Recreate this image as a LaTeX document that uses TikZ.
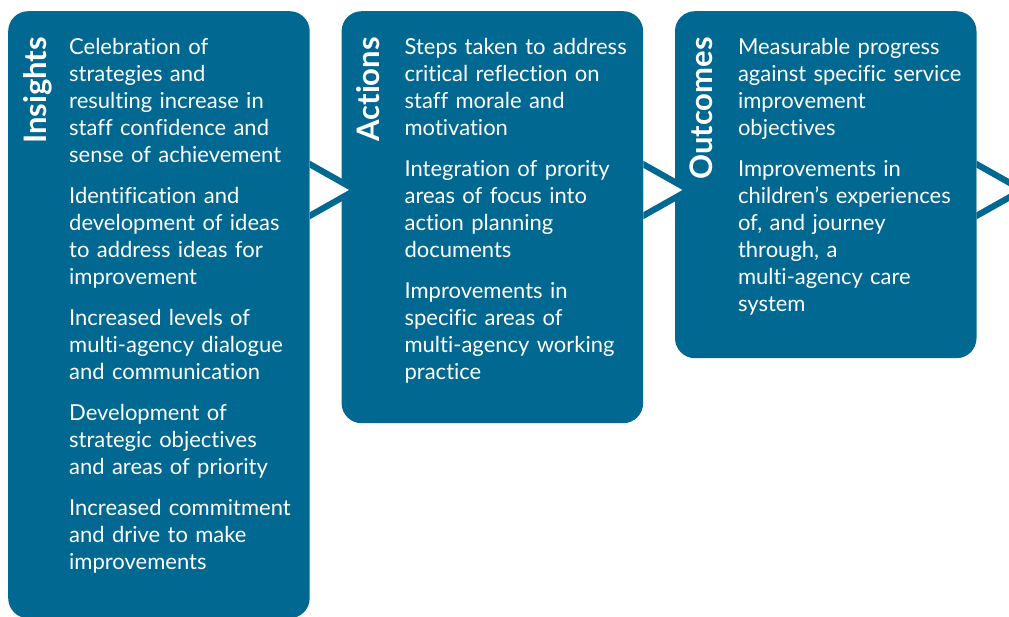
\documentclass[tikz,border=0pt]{standalone}
\usepackage{fontspec}
\setmainfont{Lato}[Ligatures=NoCommon]
\usetikzlibrary{positioning, calc}
\definecolor{stageblue}{HTML}{006891}

\begin{document}
\begin{tikzpicture}[
    x=1pt, y=-1pt,
    stage/.style={fill=stageblue, rounded corners=20pt, minimum width=301.5pt,
                  inner sep=0pt, anchor=north west},
    heading/.style={text=white, font=\fontsize{31}{31}\selectfont\bfseries,
                    rotate=90, anchor=base east, inner sep=0pt},
    points/.style={text=white, font=\fontsize{22}{27}\selectfont,
                   text width=240pt, align=left, anchor=base west, inner sep=0pt}
  ]
  \useasboundingbox (0,0) rectangle (1009,617);

  % the three stages
  \node[stage, minimum height=607pt] (insights) at (8,11) {};
  \node[stage, minimum height=412pt, right=31.5pt of insights.north east,
        anchor=north west] (actions) {};
  \node[stage, minimum height=347pt, right=31.5pt of actions.north east,
        anchor=north west] (outcomes) {};

  % chevrons leading out of each stage
  \foreach \stagename in {insights, actions, outcomes} {
    \fill[stageblue] (\stagename.north east) ++(0,149.7) -- ++(52,29.3)
      -- ++(-52,29.3) -- cycle;
    \fill[white] (\stagename.north east) ++(0,157) -- ++(39,22)
      -- ++(-39,22) -- cycle;
  }

  % titles
  \node[heading] (insights-title) at ($(insights.north west)+(38.5,26)$) {Insights};
  \node[heading] (actions-title) at ($(actions.north west)+(38,26)$) {Actions};
  \node[heading] (outcomes-title) at ($(outcomes.north west)+(38,26)$) {Outcomes};

  % bullet texts
  \node[points] (insights-points) at ($(insights.north west)+(61,44)$) {%
    Celebration of\\ strategies and\\ resulting increase in\\
    staff confidence and\\ sense of achievement\\[14pt]
    Identification and\\ development of ideas\\ to address ideas for\\
    improvement\\[14pt]
    Increased levels of\\ multi-agency dialogue\\ and communication\\[14pt]
    Development of\\ strategic objectives\\ and areas of priority\\[14pt]
    Increased commitment\\ and drive to make\\ improvements};
  \node[points] (actions-points) at ($(actions.north west)+(63,44)$) {%
    Steps taken to address\\ critical reflection on\\ staff morale and\\
    motivation\\[14pt]
    Integration of prority\\ areas of focus into\\ action planning\\
    documents\\[14pt]
    Improvements in\\ specific areas of\\ multi-agency working\\ practice};
  \node[points] (outcomes-points) at ($(outcomes.north west)+(63,44)$) {%
    Measurable progress\\ against specific service\\ improvement\\
    objectives\\[14pt]
    Improvements in\\ children’s experiences\\ of, and journey\\
    through, a\\ multi-agency care\\ system};
\end{tikzpicture}
\end{document}
